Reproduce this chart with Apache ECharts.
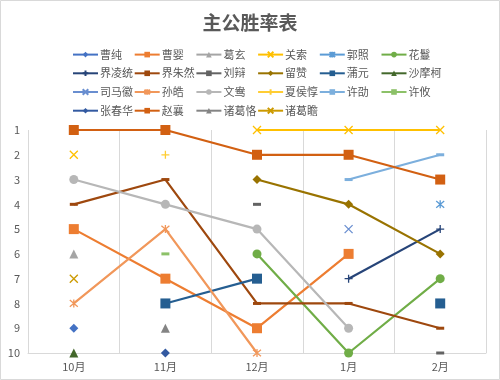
<!DOCTYPE html>
<html><head><meta charset="utf-8">
<script src="https://cdn.jsdelivr.net/npm/echarts@6/dist/echarts.min.js"></script>
<style>html,body{margin:0;padding:0;background:#fff}#c{width:500px;height:380px}</style>
</head><body><div id="c"></div>
<script>
const categories = ['10月','11月','12月','1月','2月'];
const yTicks = [1,2,3,4,5,6,7,8,9,10];
const title = '主公胜率表';
const names = ['曹纯','曹婴','葛玄','关索','郭照','花鬘','界凌统','界朱然','刘辩','留赞','蒲元','沙摩柯','司马徽','孙皓','文鸯','夏侯惇','许劭','许攸','张春华','赵襄','诸葛恪','诸葛瞻'];
const 曹纯 = [9,null,null,null,null];
const 曹婴 = [5,7,9,6,null];
const 葛玄 = [6,null,null,null,null];
const 关索 = [2,null,1,1,1];
const 郭照 = [null,null,null,null,4];
const 花鬘 = [null,null,6,10,7];
const 界凌统 = [null,null,null,7,5];
const 界朱然 = [4,3,8,8,9];
const 刘辩 = [null,null,4,null,10];
const 留赞 = [null,null,3,4,6];
const 蒲元 = [null,8,7,null,8];
const 沙摩柯 = [10,null,null,null,null];
const 司马徽 = [null,null,null,5,null];
const 孙皓 = [8,5,10,null,null];
const 文鸯 = [3,4,5,9,null];
const 夏侯惇 = [null,2,null,null,null];
const 许劭 = [null,null,null,3,2];
const 许攸 = [null,6,null,null,null];
const 张春华 = [null,10,null,null,null];
const 赵襄 = [1,1,2,2,3];
const 诸葛恪 = [null,9,null,null,null];
const 诸葛瞻 = [7,null,null,null,null];
const values = [曹纯,曹婴,葛玄,关索,郭照,花鬘,界凌统,界朱然,刘辩,留赞,蒲元,沙摩柯,司马徽,孙皓,文鸯,夏侯惇,许劭,许攸,张春华,赵襄,诸葛恪,诸葛瞻];

const colors = ['#4472C4','#ED7D31','#A5A5A5','#FFC000','#5B9BD5','#70AD47',
  '#264478','#9E480E','#636363','#997300','#255E91','#43682B',
  '#698ED0','#F1975A','#B7B7B7','#FFCD33','#7CAFDD','#8CC168',
  '#335AA1','#D26012','#848484','#CC9A00'];
const X = 'path://M0,0L10,10M10,0L0,10';
const STAR = 'path://M0,0L10,10M10,0L0,10M5,-1L5,11';
const PLUS = 'path://M5,0L5,10M0,5L10,5';
const markers = [
  {s:'diamond',z:9,stroke:false},{s:'rect',z:10,stroke:false},{s:'triangle',z:9,stroke:false},
  {s:X,z:8,stroke:true},{s:STAR,z:8,stroke:true},{s:'circle',z:9,stroke:false},
  {s:PLUS,z:8,stroke:true},{s:'rect',z:[8,3],stroke:false},{s:'rect',z:[8,3],stroke:false}
];
const FONT = '"Noto Sans CJK SC","Noto Sans",sans-serif';
const series = names.map((n,i)=>{
  const m = markers[i%9];
  const c = colors[i];
  return {
    name:n, type:'line', data:values[i], connectNulls:false,
    symbol:m.s, symbolSize:m.z, showSymbol:true,
    lineStyle:{color:c,width:2.2},
    itemStyle: m.stroke ? {color:'rgba(0,0,0,0)',borderColor:c,borderWidth:1.3} : {color:c,borderWidth:0},
    emphasis:{disabled:true}, animation:false
  };
});
const legends = [];
for (let c=0;c<6;c++){
  const d = [];
  for (let r=0;r<4;r++){ const k=c+r*6; if(k<names.length) d.push(names[k]); }
  legends.push({
    data:d, orient:'vertical', left:67+c*61.7, top:41, itemWidth:25, itemHeight:7, itemGap:1.5,
    selectedMode:false,
    textStyle:{fontFamily:FONT,fontSize:11,color:'#595959',lineHeight:17.2,padding:[0,0,0,-3]}
  });
}
const chart = echarts.init(document.getElementById('c'));
chart.setOption({
  animation:false,
  color:colors,
  title:{text:title,left:'center',top:8,textStyle:{fontFamily:FONT,fontSize:19,fontWeight:'bold',color:'#595959'}},
  legend:legends,
  grid:{left:28,right:14,top:130,bottom:27,containLabel:false},
  xAxis:{type:'category',data:categories,boundaryGap:true,
    axisLine:{show:true,lineStyle:{color:'#d9d9d9',width:1}},
    axisTick:{show:false},
    axisLabel:{fontFamily:FONT,fontSize:11,color:'#595959',margin:8},
    splitLine:{show:true,lineStyle:{color:'#d9d9d9',width:1}}},
  yAxis:{type:'value',min:1,max:10,interval:1,inverse:true,
    axisLine:{show:false},axisTick:{show:false},splitLine:{show:false},
    axisLabel:{fontFamily:FONT,fontSize:11,color:'#595959',margin:8,
      formatter:v=>yTicks.includes(v)?String(v):''}},
  graphic:[{type:'rect',shape:{x:0.5,y:0.5,width:499,height:379},style:{fill:'none',stroke:'#d9d9d9',lineWidth:1},silent:true}],
  series:series
});
</script></body></html>
